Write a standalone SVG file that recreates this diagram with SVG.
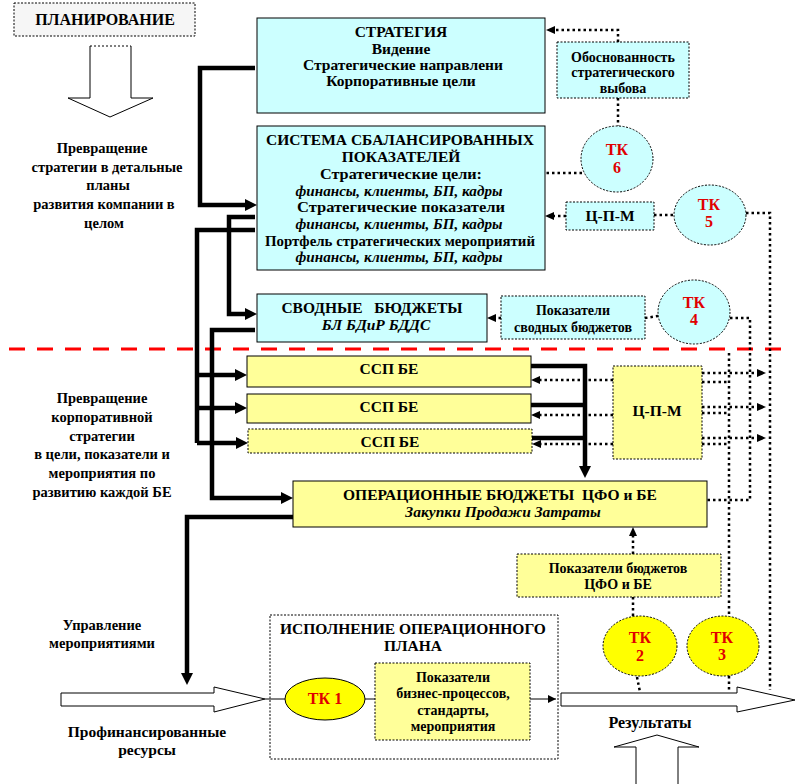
<svg xmlns="http://www.w3.org/2000/svg" width="799" height="784" viewBox="0 0 799 784" font-family="'Liberation Serif','DejaVu Serif',serif">
<defs>
<marker id="ah" markerUnits="userSpaceOnUse" markerWidth="12" markerHeight="12" viewBox="0 0 12 12" refX="4" refY="6" orient="auto"><path d="M0,0 L12,6 L0,12 z" fill="#000"/></marker>
<marker id="ad" markerUnits="userSpaceOnUse" markerWidth="9" markerHeight="8" viewBox="0 0 9 8" refX="2" refY="4" orient="auto"><path d="M0,0 L9,4 L0,8 z" fill="#000"/></marker>
<marker id="at" markerUnits="userSpaceOnUse" markerWidth="8" markerHeight="8" viewBox="0 0 8 8" refX="8" refY="4" orient="auto"><path d="M0,0 L8,4 L0,8 z" fill="#000"/></marker>
</defs>
<style>
text{font-family:'Liberation Serif','DejaVu Serif',serif;font-weight:bold;fill:#000;text-anchor:middle}
.h{font-size:16px}
.b{font-size:15.5px}
.m{font-size:14px}
.l{font-size:14.5px}
.s{font-size:14px}
.i{font-style:italic}
.r{fill:#e00000;font-size:16px}
.cy{fill:#ccffff;stroke:#000;stroke-width:1}
.ye{fill:#ffff99;stroke:#000;stroke-width:1}
.dt{stroke-dasharray:2,1.5}
.thick{fill:none;stroke:#000;stroke-width:4.5;stroke-linejoin:miter}
.dot{fill:none;stroke:#000;stroke-width:2.5;stroke-dasharray:2.5,3}
.thin{fill:none;stroke:#000;stroke-width:1}
.hol{fill:#fff;stroke:#000;stroke-width:1}
</style>
<rect width="799" height="784" fill="#fff"/>

<g id="title">
<rect x="14" y="3" width="181" height="33" fill="#f6f6f6" stroke="#000" stroke-width="1" stroke-dasharray="2,1.5"/>
<text class="h" x="105" y="25">ПЛАНИРОВАНИЕ</text>
</g>
<g id="down-arrow">
<path class="hol" d="M90,46 L90,98 L68,98 L110,117 L153,98 L131,98 L131,46"/>
<line x1="90" y1="46" x2="131" y2="46" stroke="#000" stroke-width="1" stroke-dasharray="2,2"/>
</g>
<g id="label-plan">
<text class="l" x="102" y="153">Превращение</text>
<text class="l" x="107" y="172">стратегии в детальные</text>
<text class="l" x="108" y="190">планы</text>
<text class="l" x="104" y="209">развития компании в</text>
<text class="l" x="104" y="228">целом</text>
</g>

<g id="strategy">
<rect class="cy" x="257" y="18" width="288" height="95"/>
<text class="b" x="401" y="37">СТРАТЕГИЯ</text>
<text class="b" x="401" y="54">Видение</text>
<text class="b" x="403" y="70">Стратегические направлени</text>
<text class="b" x="401" y="86">Корпоративные цели</text>
</g>
<g id="bsc">
<rect class="cy" x="257" y="126" width="288" height="144"/>
<text class="b" x="400" y="145">СИСТЕМА СБАЛАНСИРОВАННЫХ</text>
<text class="b" x="401" y="162">ПОКАЗАТЕЛЕЙ</text>
<text class="m" x="401" y="179" textLength="162" lengthAdjust="spacingAndGlyphs">Стратегические цели:</text>
<text class="m i" x="399" y="195.5" textLength="207" lengthAdjust="spacingAndGlyphs">финансы, клиенты, БП, кадры</text>
<text class="m" x="401" y="212" textLength="208" lengthAdjust="spacingAndGlyphs">Стратегические показатели</text>
<text class="m i" x="399" y="228.5" textLength="207" lengthAdjust="spacingAndGlyphs">финансы, клиенты, БП, кадры</text>
<text class="m" x="400" y="245.5" textLength="270" lengthAdjust="spacingAndGlyphs">Портфель стратегических мероприятий</text>
<text class="m i" x="399" y="262" textLength="207" lengthAdjust="spacingAndGlyphs">финансы, клиенты, БП, кадры</text>
</g>
<g id="justification">
<rect class="cy dt" x="557" y="42" width="132" height="56"/>
<text class="s" x="623" y="62">Обоснованность</text>
<text class="s" x="623" y="77">стратегического</text>
<text class="s" x="623" y="93">выбова</text>
</g>
<g id="tk6">
<ellipse class="cy dt" cx="617" cy="159" rx="36" ry="33"/>
<text class="r" x="617" y="155">ТК</text>
<text class="r" x="617" y="173">6</text>
</g>
<g id="cpm-small">
<rect class="cy dt" x="566" y="202" width="88" height="28"/>
<text class="b" x="610" y="221">Ц-П-М</text>
</g>
<g id="tk5">
<ellipse class="cy dt" cx="710" cy="215" rx="36" ry="30"/>
<text class="r" x="709" y="210">ТК</text>
<text class="r" x="709" y="227">5</text>
</g>
<g id="consolidated">
<rect class="cy" x="257" y="294" width="230" height="48"/>
<text class="b" x="372" y="313" xml:space="preserve">СВОДНЫЕ   БЮДЖЕТЫ</text>
<text class="b i" x="376" y="330">БЛ БДиР БДДС</text>
</g>
<g id="consolidated-indicators">
<rect class="cy dt" x="501" y="296" width="144" height="43"/>
<text class="s" x="573" y="315">Показатели</text>
<text class="s" x="573" y="332">сводных бюджетов</text>
</g>
<g id="tk4">
<ellipse class="cy dt" cx="694" cy="312" rx="36" ry="32"/>
<text class="r" x="694" y="308">ТК</text>
<text class="r" x="694" y="325">4</text>
</g>

<line x1="9" y1="349" x2="786" y2="349" stroke="#ff0000" stroke-width="3" stroke-dasharray="16,12"/>

<g id="ssp1">
<rect class="ye" x="247" y="356" width="284" height="31"/>
<text class="b" x="389" y="374">ССП БЕ</text>
</g>
<g id="ssp2">
<rect class="ye" x="247" y="394" width="284" height="29"/>
<text class="b" x="389" y="412">ССП БЕ</text>
</g>
<g id="ssp3">
<rect class="ye dt" x="248" y="429" width="284" height="24"/>
<text class="b" x="390" y="447">ССП БЕ</text>
</g>
<g id="cpm-big">
<rect class="ye dt" x="613" y="366" width="89" height="93"/>
<text class="b" x="657" y="416">Ц-П-М</text>
</g>
<g id="op-budgets">
<rect class="ye" x="293" y="481" width="414" height="46"/>
<text class="b" x="500" y="500" xml:space="preserve">ОПЕРАЦИОННЫЕ БЮДЖЕТЫ  ЦФО и БЕ</text>
<text class="b i" x="503" y="517">Закупки Продажи Затраты</text>
</g>
<g id="label-be">
<text class="l" x="102" y="403">Превращение</text>
<text class="l" x="102" y="422">корпоративной</text>
<text class="l" x="102" y="441">стратегии</text>
<text class="l" x="102" y="459">в цели, показатели и</text>
<text class="l" x="102" y="478">мероприятия по</text>
<text class="l" x="102" y="497">развитию каждой БЕ</text>
</g>
<g id="budget-indicators">
<rect class="ye dt" x="517" y="554" width="204" height="43"/>
<text class="s" x="618" y="573">Показатели бюджетов</text>
<text class="s" x="618" y="589">ЦФО и БЕ</text>
</g>
<g id="tk2">
<ellipse cx="640" cy="646" rx="37" ry="30" fill="#ffff00" stroke="#000" stroke-width="1" stroke-dasharray="2,1.5"/>
<text class="r" x="640" y="643">ТК</text>
<text class="r" x="640" y="661">2</text>
</g>
<g id="tk3">
<ellipse cx="723" cy="646" rx="36" ry="30" fill="#ffff00" stroke="#000" stroke-width="1" stroke-dasharray="2,1.5"/>
<text class="r" x="722" y="643">ТК</text>
<text class="r" x="722" y="660">3</text>
</g>
<g id="label-manage">
<text class="l" x="102" y="630">Управление</text>
<text class="l" x="102" y="648">мероприятиями</text>
</g>
<g id="resources-arrow">
<polygon class="hol" points="61,693 214,693 214,687 265,699 214,712 214,706 61,706"/>
<text class="b" x="147" y="737">Профинансированные</text>
<text class="b" x="147" y="755">ресурсы</text>
</g>
<g id="execution">
<rect x="270" y="615" width="288" height="144" fill="none" stroke="#000" stroke-width="1" stroke-dasharray="2,1.5"/>
<text class="b" x="413" y="634">ИСПОЛНЕНИЕ ОПЕРАЦИОННОГО</text>
<text class="b" x="413" y="651">ПЛАНА</text>
</g>
<g id="tk1">
<ellipse cx="325" cy="699" rx="40" ry="21" fill="#ffff00" stroke="#000" stroke-width="1"/>
<text class="r" x="325" y="704">ТК 1</text>
</g>
<g id="process-indicators">
<rect class="ye dt" x="375" y="663" width="155" height="77"/>
<text class="s" x="453" y="682">Показатели</text>
<text class="s" x="453" y="698">бизнес-процессов,</text>
<text class="s" x="453" y="715">стандарты,</text>
<text class="s" x="453" y="731">мероприятия</text>
</g>
<g id="results-arrow">
<polygon class="hol" points="561,693 737,693 737,687 795,700 737,712 737,706 561,706"/>
<text class="h" x="650" y="728">Результаты</text>
</g>
<g id="up-arrow">
<path class="hol" d="M636,784 L636,747 L614,747 L657,735 L699,747 L678,747 L678,784"/>
</g>

<g id="connectors">
<path class="thick" d="M255,68 L200,68 L200,205 L249,205" marker-end="url(#ah)"/>
<path class="thick" d="M255,217 L229,217 L229,314 L249,314" marker-end="url(#ah)"/>
<path class="thick" d="M255,230 L197,230 L197,443"/>
<path class="thick" d="M197,375 L239,375" marker-end="url(#ah)"/>
<path class="thick" d="M197,408 L239,408" marker-end="url(#ah)"/>
<path class="thick" d="M197,443 L240,443" marker-end="url(#ah)"/>
<path class="thick" d="M255,330 L212,330 L212,498 L285,498" marker-end="url(#ah)"/>
<path class="thick" d="M293,517 L187,517 L187,677" marker-end="url(#ah)"/>
<path class="thick" d="M531,366 L585,366 L585,470" marker-end="url(#ah)"/>
<path class="thick" d="M531,405 L585,405"/>
<path class="thick" d="M532,438 L585,438"/>

<path class="dot" d="M618,42 L618,30 L553,30" marker-end="url(#ad)"/>
<path class="dot" d="M618,98 L618,126"/>
<path class="dot" d="M582,173 L545,173"/>
<path class="dot" d="M566,216 L552,216" marker-end="url(#ad)"/>
<path class="dot" d="M654,215 L674,215"/>
<path class="dot" d="M746,213 L770,213 L770,690"/>
<path class="dot" d="M501,318 L494,318" marker-end="url(#ad)"/>
<path class="dot" d="M645,318 L658,316"/>
<path class="dot" d="M730,318 L750,318 L750,500 L707,500"/>
<path class="dot" d="M729,353 L729,616"/>
<path class="dot" d="M729,676 L729,690"/>
<path class="dot" d="M613,380 L538,380" marker-end="url(#ad)"/>
<path class="dot" d="M613,415 L538,415" marker-end="url(#ad)"/>
<path class="dot" d="M613,444 L539,444" marker-end="url(#ad)"/>
<path class="dot" d="M702,373 L759,373" marker-end="url(#ad)"/>
<path class="dot" d="M702,382 L729,382"/>
<path class="dot" d="M702,407 L759,407" marker-end="url(#ad)"/>
<path class="dot" d="M702,413 L729,413"/>
<path class="dot" d="M702,438 L759,438" marker-end="url(#ad)"/>
<path class="dot" d="M702,444 L729,444"/>
<path class="dot" d="M633,554 L633,534" marker-end="url(#ad)"/>
<path class="dot" d="M633,597 L633,616"/>
<path class="dot" d="M637,677 L640,692"/>

<line class="thin" x1="265" y1="699" x2="285" y2="699"/>
<line class="thin" x1="365" y1="699" x2="375" y2="699"/>
<line class="thin" x1="530" y1="699" x2="556" y2="699" marker-end="url(#at)"/>
</g>
</svg>
